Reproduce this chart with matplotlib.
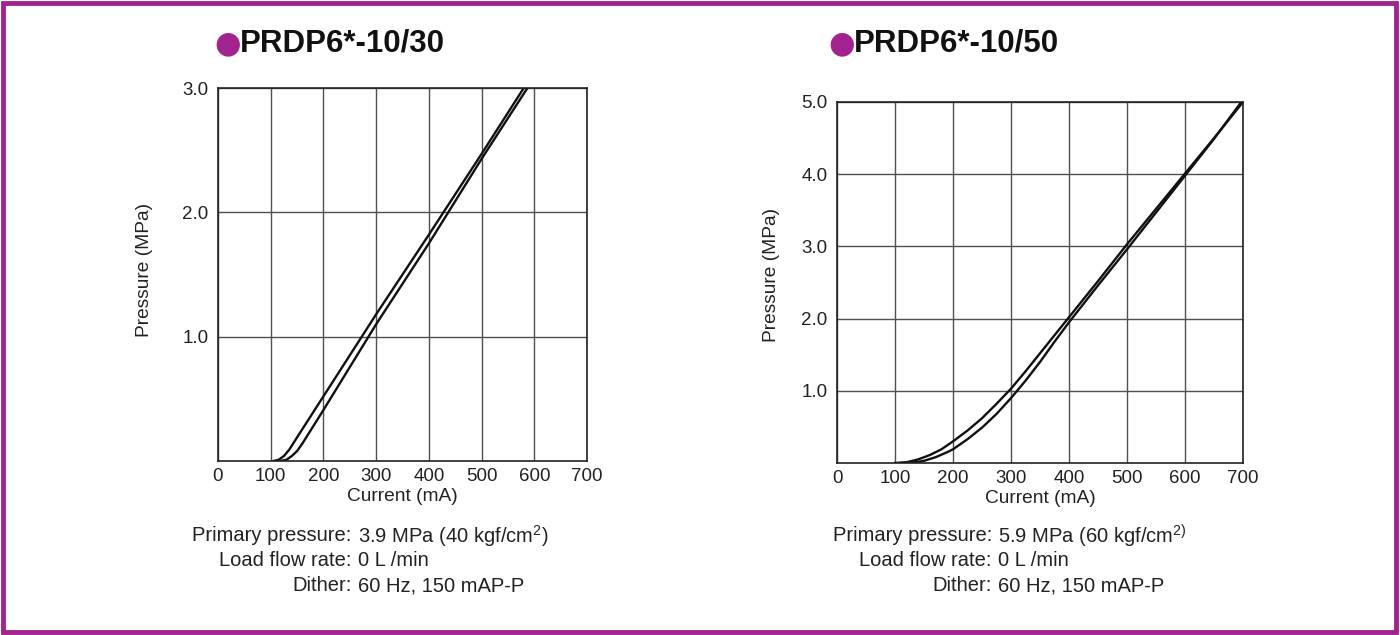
import matplotlib
matplotlib.use("Agg")
import matplotlib.pyplot as plt
from matplotlib.patches import Rectangle

plt.rcParams['font.family'] = ['Liberation Sans', 'DejaVu Sans']
plt.rcParams['mathtext.fontset'] = 'custom'
plt.rcParams['mathtext.rm'] = 'Liberation Sans'

# PRDP6*-10/30 : two branches of the hysteresis loop
i30_up = [105, 115, 125, 135, 150, 200, 300, 400, 500, 580]
p30_up = [0.0, 0.01, 0.04, 0.09, 0.19, 0.52, 1.18, 1.82, 2.47, 3.0]
i30_dn = [118, 130, 140, 150, 160, 200, 300, 400, 500, 587]
p30_dn = [0.0, 0.01, 0.04, 0.08, 0.14, 0.41, 1.10, 1.75, 2.43, 3.0]

# PRDP6*-10/50
i50_up = [100, 120, 140, 160, 180, 200, 225, 250, 275, 300, 325, 350, 375, 400,
          450, 500, 550, 600, 650, 700]
p50_up = [0.0, 0.01, 0.05, 0.11, 0.19, 0.30, 0.45, 0.62, 0.82, 1.03, 1.27, 1.52, 1.77, 2.02,
          2.52, 3.03, 3.52, 4.01, 4.5, 5.0]
i50_dn = [110, 130, 150, 170, 190, 200, 225, 250, 275, 300, 325, 350, 375, 400,
          450, 500, 550, 600, 650, 697]
p50_dn = [0.0, 0.005, 0.03, 0.08, 0.15, 0.19, 0.33, 0.49, 0.68, 0.90, 1.14, 1.40, 1.68, 1.95,
          2.46, 2.96, 3.47, 3.98, 4.49, 5.0]

x_ticks = [0, 100, 200, 300, 400, 500, 600, 700]
y_ticks_30 = [1.0, 2.0, 3.0]
y_ticks_50 = [1.0, 2.0, 3.0, 4.0, 5.0]

notes_keys = ["Primary pressure:", "Load flow rate:", "Dither:"]
notes_30 = ["3.9 MPa (40 kgf/cm$^{\\mathrm{2}}$)", "0 L /min", "60 Hz, 150 mAP-P"]
notes_50 = ["5.9 MPa (60 kgf/cm$^{\\mathrm{2)}}$", "0 L /min", "60 Hz, 150 mAP-P"]

PURPLE = '#a3238e'

fig = plt.figure(figsize=(14, 6.35), dpi=100)
fig.patches.append(Rectangle((0.002, 0.004), 0.995, 0.991, transform=fig.transFigure,
                             fill=False, edgecolor=PURPLE, linewidth=3.5))


def draw_panel(rect, ups, downs, ymax, yticks, title, tx, ylab_xy, keys, vals, nx):
    ax = fig.add_axes(rect)
    ax.plot(ups[0], ups[1], color='#111111', lw=1.7)
    ax.plot(downs[0], downs[1], color='#111111', lw=1.7)
    ax.set_xlim(0, 700)
    ax.set_ylim(0, ymax)
    ax.set_xticks(x_ticks)
    ax.set_yticks(yticks)
    ax.set_yticklabels(["%.1f" % v for v in yticks])
    ax.grid(True, color='#505050', lw=1.0)
    ax.set_axisbelow(True)
    ax.tick_params(length=0, labelsize=13.5, labelcolor='#222222')
    ax.tick_params(axis='x', pad=5)
    ax.tick_params(axis='y', pad=7)
    for s in ax.spines.values():
        s.set_linewidth(1.2)
        s.set_color('#222222')
    ax.set_xlabel("Current (mA)", fontsize=13.8, labelpad=2, color='#222222')
    ax.set_ylabel("Pressure (MPa)", fontsize=13.8, color='#222222')
    ax.yaxis.set_label_coords(*ylab_xy)

    # title: purple bullet + bold name
    fig.text(tx, 0.931, "\u25cf", color=PURPLE, fontsize=22, va='center',
             family=['DejaVu Sans'])
    fig.text(tx + 0.018, 0.931, title, fontsize=22.5, fontweight='bold',
             va='center', color='#111111')

    # conditions under the chart
    for k, (key, val) in enumerate(zip(keys, vals)):
        y = 0.156 - k * 0.0394
        fig.text(nx, y, key, ha='right', va='center', fontsize=14.5, color='#222222')
        fig.text(nx + 0.0045, y, val, ha='left', va='center', fontsize=14.5, color='#222222')
    return ax


draw_panel([0.1557, 0.274, 0.2636, 0.5874], (i30_up, p30_up), (i30_dn, p30_dn),
           3.0, y_ticks_30, "PRDP6*-10/30", 0.153, (-0.176, 0.512),
           notes_keys, notes_30, 0.251)
draw_panel([0.5979, 0.2709, 0.29, 0.5685], (i50_up, p50_up), (i50_dn, p50_dn),
           5.0, y_ticks_50, "PRDP6*-10/50", 0.592, (-0.14, 0.52),
           notes_keys, notes_50, 0.7085)

fig.savefig("out.png", dpi=100)
